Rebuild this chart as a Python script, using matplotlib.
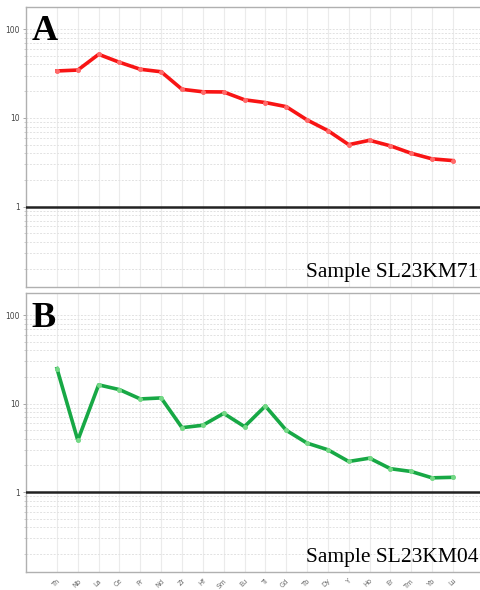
import numpy as np
import matplotlib.pyplot as plt
from matplotlib.ticker import LogLocator, FixedLocator, NullFormatter

# ---------- data: trace elements, normalised concentrations ----------
elements = ["Th", "Nb", "La", "Ce", "Pr", "Nd", "Zr", "Hf", "Sm", "Eu",
            "Ti", "Gd", "Tb", "Dy", "Y", "Ho", "Er", "Tm", "Yb", "Lu"]

sl23km71 = [33.8, 34.6, 52.0, 42.3, 35.3, 33.1, 21.0, 19.7, 19.6, 16.0,
            14.9, 13.4, 9.5, 7.2, 5.0, 5.6, 4.85, 4.0, 3.46, 3.31]

sl23km04 = [24.9, 3.85, 16.3, 14.4, 11.3, 11.6, 5.35, 5.7, 7.76, 5.5,
            9.4, 5.0, 3.58, 3.01, 2.22, 2.42, 1.84, 1.71, 1.45, 1.47]

panels = [("A", "Sample SL23KM71", sl23km71, "#f81414", "#ff6a6a"),
          ("B", "Sample SL23KM04", sl23km04, "#17a845", "#74d886")]
# ---------------------------------------------------------------------

fig = plt.figure(figsize=(4.8, 5.9), dpi=100)
boxes = [[0.054, 0.5136, 1.0 - 0.054, 0.988 - 0.5136],
         [0.054, 0.0305, 1.0 - 0.054, 0.503 - 0.0305]]

x = np.arange(len(elements))

for box, (letter, sample, vals, col, mcol) in zip(boxes, panels):
    ax = fig.add_axes(box)
    ax.set_yscale("log")
    ax.set_ylim(0.125, 177)
    ax.set_xlim(-1.49, 20.3)

    # grid: category verticals + log minor horizontals
    ax.set_xticks(x)
    ax.xaxis.grid(True, color="#ebebeb", linewidth=0.8, linestyle="-")
    ax.yaxis.set_major_locator(FixedLocator([1, 10, 100]))
    ax.yaxis.set_minor_locator(LogLocator(base=10, subs=np.arange(2, 10)))
    ax.yaxis.set_minor_formatter(NullFormatter())
    ax.yaxis.grid(True, which="both", color="#e2e2e2", linewidth=0.7,
                  linestyle=(0, (2, 1.5)))
    ax.set_yticklabels(["1", "10", "100"])
    ax.tick_params(axis="y", which="major", labelsize=5.5, labelcolor="#444444",
                   length=2.5, width=0.6, color="#999999", pad=2)
    ax.tick_params(axis="y", which="minor", length=1.5, width=0.5, color="#bbbbbb")
    ax.tick_params(axis="x", length=0)

    for side in ["top", "left", "bottom"]:
        ax.spines[side].set_color("#b0b0b0")
        ax.spines[side].set_linewidth(1.0)
    ax.spines["right"].set_visible(False)

    ax.axhline(1, color="#222222", linewidth=1.8, zorder=3)

    ax.plot(x, vals, color=col, linewidth=2.6, zorder=4,
            marker="o", markersize=2.6, markerfacecolor=mcol,
            markeredgecolor=mcol, solid_joinstyle="round")

    ax.text(0.012, 0.97, letter, transform=ax.transAxes, ha="left", va="top",
            fontsize=26, fontweight="bold", family="Liberation Serif")
    ax.text(0.997, 0.035, sample, transform=ax.transAxes, ha="right",
            va="baseline", fontsize=15.5, family="Liberation Serif")

    if letter == "B":
        ax.set_xticklabels(elements, rotation=45, fontsize=4.8, color="#666666",
                           ha="right", rotation_mode="anchor")
        ax.tick_params(axis="x", pad=4)
    else:
        ax.set_xticklabels([])

fig.savefig("out.png", dpi=100)
